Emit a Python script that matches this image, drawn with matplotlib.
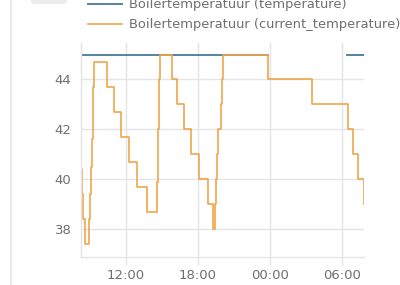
import datetime as dt
import matplotlib
matplotlib.use("Agg")
import matplotlib.pyplot as plt
import matplotlib.dates as mdates
from matplotlib.patches import FancyBboxPatch
from matplotlib.lines import Line2D

# hours since midnight of day 1 (values > 24 are the next day)
setpoint_hours = [8.27, 23.81, 23.82, 30.42, 31.86]
setpoint_values = [45, 45, None, 45, 45]

current_hours = [
    8.27, 8.29, 8.44, 8.58, 8.89, 9.00, 9.06, 9.14, 9.225, 9.275, 9.36,
    10.44, 11.00, 11.56, 12.25, 12.89, 13.725, 14.61, 14.65, 14.69, 14.73,
    14.77, 14.83, 15.81, 16.22, 16.79, 17.39, 18.08, 18.86, 19.22, 19.42,
    19.50, 19.56, 19.69, 19.89, 20.03, 20.11, 23.81, 27.475, 30.525, 30.94,
    31.31, 31.85, 31.86,
]
current_values = [
    40.4, 39.4, 38.4, 37.4, 38.4, 39.4, 40.5, 41.6, 42.7, 43.7, 44.7,
    43.7, 42.7, 41.7, 40.7, 39.7, 38.7, 39.9, 40.9, 42.0, 43.0,
    44.0, 45.0, 44.0, 43.0, 42.0, 41.0, 40.0, 39.0, 38.0, 39.0,
    40.0, 41.0, 42.0, 43.0, 44.0, 45.0, 44.0, 43.0, 42.0, 41.0,
    40.0, 39.0, 39.0,
]

series_labels = ["Boilertemperatuur (temperature)",
                 "Boilertemperatuur (current_temperature)"]
y_ticks = [38, 40, 42, 44]

day0 = dt.datetime(2024, 1, 1)


def to_dates(hours):
    return [day0 + dt.timedelta(hours=h) for h in hours]


text_grey = "#6f6f6f"
grid_grey = "#e4e4e4"
plt.rcParams["font.family"] = "DejaVu Sans"

fig = plt.figure(figsize=(4.0, 2.85), dpi=100)
ax = fig.add_axes([81.3 / 400, 1 - 256.7 / 285, 283 / 400, 213.4 / 285])

sp = [float("nan") if v is None else v for v in setpoint_values]
ax.step(to_dates(setpoint_hours), sp, where="post", color="#55849f",
        lw=1.4, label=series_labels[0])
ax.step(to_dates(current_hours), current_values, where="post",
        color="#f0a54c", lw=1.2, label=series_labels[1])

ax.set_xlim(to_dates([8.27, 31.86]))
ax.set_ylim(36.9, 45.45)
ax.set_yticks(y_ticks)
ax.xaxis.set_major_locator(mdates.HourLocator(byhour=[0, 6, 12, 18]))
ax.xaxis.set_major_formatter(mdates.DateFormatter("%H:%M"))

ax.grid(True, color=grid_grey, lw=1.0)
ax.set_axisbelow(True)
for side in ["top", "right"]:
    ax.spines[side].set_visible(False)
for side in ["left", "bottom"]:
    ax.spines[side].set_color(grid_grey)
    ax.spines[side].set_linewidth(1.0)
ax.tick_params(axis="x", colors=grid_grey, labelcolor=text_grey,
               labelsize=9.5, length=6, width=1.0, pad=3)
ax.tick_params(axis="y", labelcolor=text_grey, labelsize=9.5, length=0, pad=7)

leg = ax.legend(loc="upper left", bbox_to_anchor=(88 / 400, 1 + 1.8 / 285),
                bbox_transform=fig.transFigure, frameon=False, fontsize=9.35,
                handlelength=2.62, handletextpad=0.56, labelspacing=0.54,
                borderpad=0, borderaxespad=0)
for t in leg.get_texts():
    t.set_color(text_grey)

# card edge and button remnant at the top-left
fig.add_artist(Line2D([10.7 / 400, 10.7 / 400], [0, 1], color="#e4e4e4",
                      lw=1.2, transform=fig.transFigure))
fig.add_artist(FancyBboxPatch((31 / 400, 1 - 4 / 285), 36 / 400, 10 / 285,
                              boxstyle="round,pad=0,rounding_size=0.01",
                              transform=fig.transFigure, color="#ececec",
                              lw=0))

fig.savefig("out.png", dpi=100)
